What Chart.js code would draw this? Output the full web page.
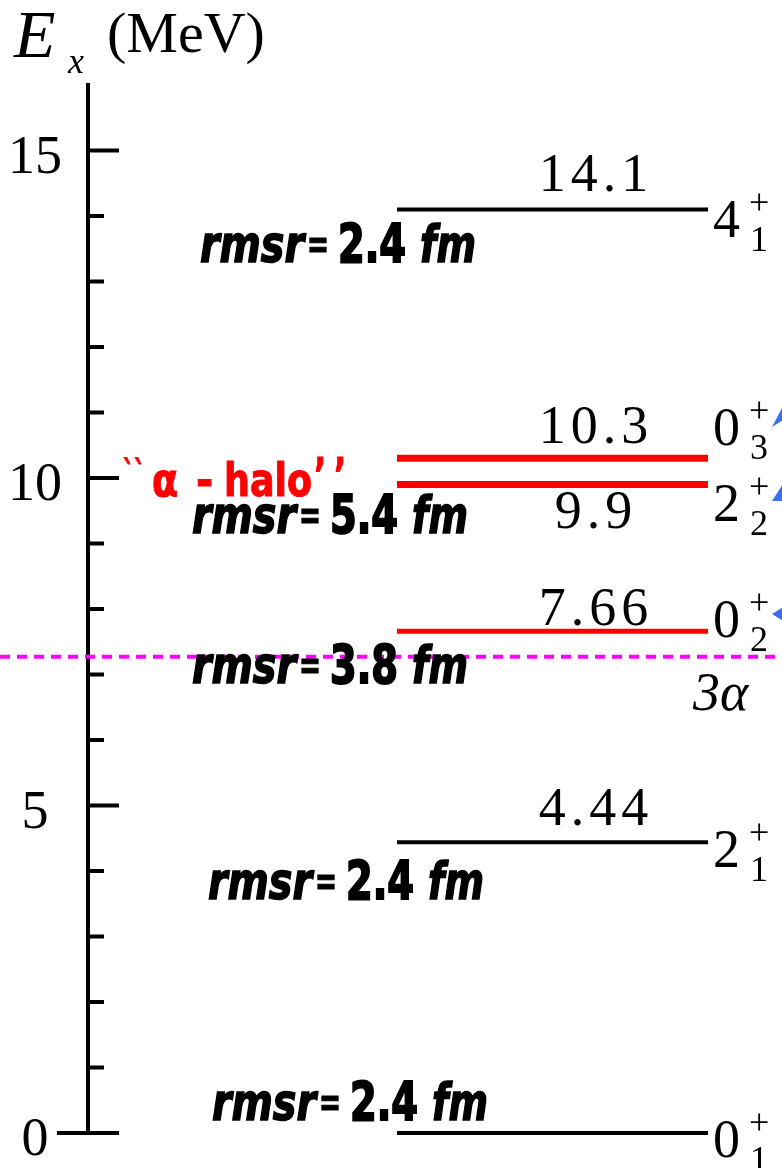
<!DOCTYPE html>
<html>
<head>
<meta charset="utf-8">
<script src="https://cdn.jsdelivr.net/npm/chart.js@4.4.1/dist/chart.umd.min.js"></script>
<style>
  html, body { margin: 0; padding: 0; background: #fff; }
  canvas { display: block; }
</style>
</head>
<body>
<canvas id="levels" width="782" height="1168"></canvas>
<script>
// 12C excitation levels, MeV
const levelEnergies = [0, 4.44, 7.66, 9.9, 10.3, 14.1];
const levelLabels = ['', '4.44', '7.66', '9.9', '10.3', '14.1'];
const spinValues = ['0', '2', '0', '2', '0', '4'];
const spinIndex = ['1', '1', '2', '2', '3', '1'];
const rmsrValues = ['2.4', '2.4', '3.8', '', '5.4', '2.4'];
const thresholdEnergy = 7.27; // 3-alpha breakup
const yTickLabels = ['0', '5', '10', '15'];

// drawing styles
const levelColors = ['#000', '#000', '#ff0000', '#ff0000', '#ff0000', '#000'];
const levelWidths = [4, 4, 5, 7, 7, 4];
const AXIS_X = 88;           // where the energy axis sits on the x layout scale
const LEVEL_X = [397, 708];  // horizontal extent of each level bar
// text offsets from each level line (px)
const valueDy = [0, -17, -6, 43, -15, -18];
const spinDy = [24, 25, 6, 36, -13, 28];
const rmsrPos = [[212, -13], [208, 57], [192, 52], null, [192, 75], [200, 53]];

const SERIF = '"Liberation Serif", "Times New Roman", serif';
const HEAVY = '"DejaVu Sans Condensed", "DejaVu Sans", sans-serif';

const datasets = levelEnergies.map((e, i) => ({
  data: [{ x: LEVEL_X[0], y: e }, { x: LEVEL_X[1], y: e }],
  borderColor: levelColors[i],
  borderWidth: levelWidths[i],
  borderCapStyle: 'butt',
  pointRadius: 0,
  clip: false
}));

datasets.push({
  data: [{ x: 0, y: thresholdEnergy }, { x: 782, y: thresholdEnergy }],
  borderColor: '#ff00ff',
  borderWidth: 4,
  borderDash: [10, 7],
  pointRadius: 0
});

// squeeze text horizontally so it fits into width
function fitText(ctx, text, x, y, width, heavy) {
  const w = ctx.measureText(text).width;
  const k = w > width ? width / w : 1;
  ctx.save();
  ctx.translate(x, y);
  ctx.scale(k, 1);
  ctx.fillText(text, 0, 0);
  if (heavy) {
    ctx.lineWidth = heavy;
    ctx.strokeStyle = ctx.fillStyle;
    ctx.strokeText(text, 0, 0);
  }
  ctx.restore();
}

// inward tick marks plus numbers on the energy axis
const axisTicks = {
  id: 'axisTicks',
  afterDraw(chart) {
    const { ctx, scales: { x, y } } = chart;
    const ax = x.getPixelForValue(AXIS_X);
    ctx.save();
    ctx.strokeStyle = '#000';
    ctx.lineWidth = 4;
    ctx.fillStyle = '#000';
    ctx.font = '54px ' + SERIF;
    ctx.textAlign = 'center';
    y.ticks.forEach(t => {
      if (t.value >= y.max) return;
      const py = y.getPixelForValue(t.value);
      const label = String(t.value);
      const major = yTickLabels.includes(label);
      ctx.beginPath();
      ctx.moveTo(t.value === 0 ? ax - 31 : ax, py);
      ctx.lineTo(ax + (major ? 31 : 16), py);
      ctx.stroke();
      if (major) ctx.fillText(label, 35, py + 22);
    });

    // axis title
    ctx.textAlign = 'left';
    ctx.font = 'italic 68px ' + SERIF;
    ctx.fillText('E', 14, 57);
    ctx.font = 'italic 36px ' + SERIF;
    ctx.fillText('x', 68, 73);
    ctx.font = '58px ' + SERIF;
    ctx.fillText('(MeV)', 107, 52);
    ctx.restore();
  }
};

function drawRmsr(ctx, x0, base, value) {
  ctx.fillStyle = '#000';
  ctx.textAlign = 'left';
  ctx.font = 'italic bold 52px ' + HEAVY;
  fitText(ctx, 'rmsr', x0, base, 104, 1.5);
  ctx.font = 'bold 40px ' + HEAVY;
  fitText(ctx, '=', x0 + 107, base - 4, 22, 1);
  ctx.font = 'bold 54px ' + HEAVY;
  fitText(ctx, value, x0 + 138, base, 68, 2);
  ctx.font = 'italic bold 52px ' + HEAVY;
  fitText(ctx, 'fm', x0 + 220, base, 56, 1.5);
}

const levelText = {
  id: 'levelText',
  afterDatasetsDraw(chart) {
    const { ctx, scales: { y } } = chart;
    ctx.save();
    levelEnergies.forEach((e, i) => {
      const py = y.getPixelForValue(e);
      ctx.fillStyle = '#000';

      // energy value over / under the bar
      if (levelLabels[i]) {
        ctx.font = '54px ' + SERIF;
        ctx.textAlign = 'center';
        ctx.letterSpacing = '5px';
        ctx.fillText(levelLabels[i], 596, py + valueDy[i]);
        ctx.letterSpacing = '0px';
      }

      // J^pi with index
      const base = py + spinDy[i];
      ctx.textAlign = 'left';
      ctx.font = '54px ' + SERIF;
      ctx.fillText(spinValues[i], 713, base);
      ctx.font = '36px ' + SERIF;
      ctx.fillText('+', 749, base - 23);
      ctx.fillText(spinIndex[i], 750, base + 14);

      if (rmsrPos[i]) drawRmsr(ctx, rmsrPos[i][0], py + rmsrPos[i][1], rmsrValues[i]);
    });

    // alpha-halo tag
    ctx.fillStyle = '#ff0000';
    ctx.textAlign = 'left';
    ctx.font = 'bold 36px ' + HEAVY;
    fitText(ctx, '``', 123, 486, 22, 1);
    ctx.font = 'bold 46px ' + HEAVY;
    fitText(ctx, 'α', 152, 496, 26, 1);
    fitText(ctx, '-', 196, 496, 22, 1);
    fitText(ctx, 'halo', 224, 496, 88, 1);
    ctx.letterSpacing = '10px';
    fitText(ctx, '’’', 314, 491, 40, 1);
    ctx.letterSpacing = '0px';

    // threshold label
    ctx.fillStyle = '#000';
    ctx.font = 'italic 54px ' + SERIF;
    ctx.fillText('3α', 693, 710);

    // arrow heads coming in from the right
    ctx.fillStyle = '#3a6ff0';
    [[772, 427, 783, 406, 783, 420], [772, 501, 783, 484, 783, 501], [772, 614, 783, 607, 783, 621]].forEach(p => {
      ctx.beginPath();
      ctx.moveTo(p[0], p[1]);
      ctx.lineTo(p[2], p[3]);
      ctx.lineTo(p[4], p[5]);
      ctx.closePath();
      ctx.fill();
    });
    ctx.restore();
  }
};

new Chart(document.getElementById('levels').getContext('2d'), {
  type: 'line',
  data: { datasets },
  options: {
    responsive: false,
    animation: false,
    layout: { padding: { top: 85, bottom: 35, left: 0, right: 0 } },
    plugins: { legend: { display: false }, tooltip: { enabled: false } },
    scales: {
      x: { type: 'linear', min: 0, max: 782, display: false },
      y: {
        type: 'linear',
        min: 0,
        max: 16,
        position: { x: AXIS_X },
        ticks: { display: false, stepSize: 1 },
        grid: { display: false },
        border: { display: true, color: '#000', width: 4 }
      }
    }
  },
  plugins: [levelText, axisTicks]
});
</script>
</body>
</html>
